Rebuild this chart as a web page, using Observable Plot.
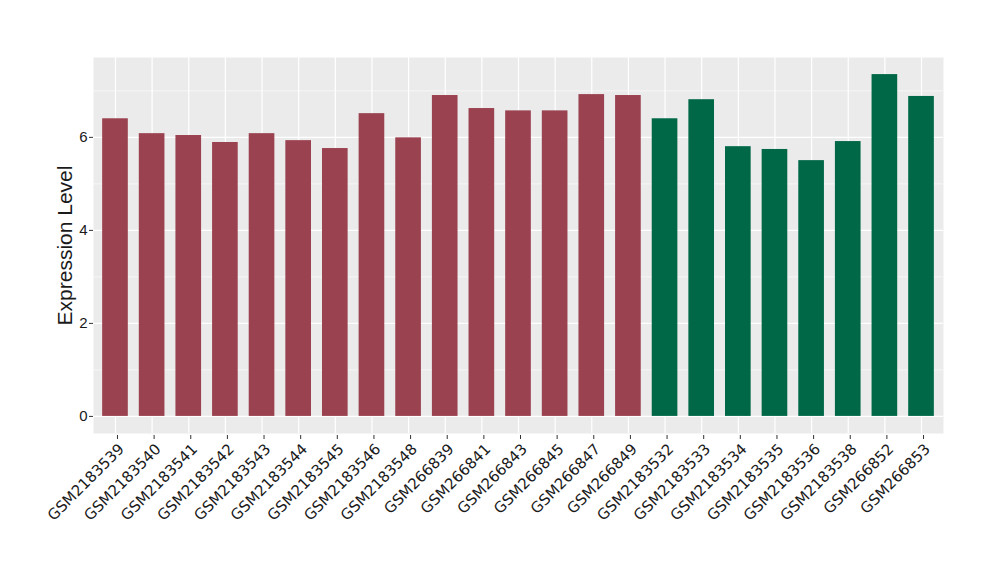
<!DOCTYPE html>
<html>
<head>
<meta charset="utf-8">
<script src="https://cdn.jsdelivr.net/npm/d3@7"></script>
<script src="https://cdn.jsdelivr.net/npm/@observablehq/plot@0.6"></script>
<style>
  html, body { margin: 0; padding: 0; background: #fff; }
  #chart { width: 1000px; height: 580px; }
</style>
</head>
<body>
<div id="chart"></div>
<script>
const samples = ["GSM2183539","GSM2183540","GSM2183541","GSM2183542","GSM2183543","GSM2183544","GSM2183545","GSM2183546","GSM2183548","GSM266839","GSM266841","GSM266843","GSM266845","GSM266847","GSM266849","GSM2183532","GSM2183533","GSM2183534","GSM2183535","GSM2183536","GSM2183538","GSM266852","GSM266853"];
const values = [6.40,6.08,6.04,5.89,6.08,5.93,5.76,6.51,5.99,6.90,6.62,6.57,6.57,6.92,6.90,6.40,6.81,5.80,5.74,5.50,5.91,7.35,6.88];
const groups = ["A","A","A","A","A","A","A","A","A","A","A","A","A","A","A","B","B","B","B","B","B","B","B"];
const groupNames = ["A","B"];
const groupColors = ["#9B4250","#006847"];
const majorTicks = [0,2,4,6];
const minorTicks = [1,3,5,7];

const data = samples.map((s,i) => ({sample: s, value: values[i], group: groups[i]}));
const maxV = d3.max(values);
const yDomain = [-0.05*maxV, maxV*1.05];

const chart = Plot.plot({
  width: 1000,
  height: 580,
  marginLeft: 93,
  marginRight: 57,
  marginTop: 57,
  marginBottom: 147,
  style: {fontFamily: "'Liberation Sans', Arial, sans-serif", fontSize: "15px", color: "#1a1a1a", background: "#fff"},
  x: {domain: samples, paddingInner: 0.3, paddingOuter: 0.25, align: 0.5, round: false},
  y: {domain: yDomain},
  color: {domain: groupNames, range: groupColors},
  marks: [
    Plot.frame({fill: "#EBEBEB", stroke: "none"}),
    Plot.ruleY(minorTicks, {stroke: "#fff", strokeWidth: 0.6}),
    Plot.ruleY(majorTicks, {stroke: "#fff", strokeWidth: 1.2}),
    Plot.ruleX(samples, {x: d => d, stroke: "#fff", strokeWidth: 1.2}),
    Plot.barY(data, {x: "sample", y: "value", fill: "group"}),
    Plot.axisY(majorTicks, {tickSize: 4, tickPadding: 2, stroke: "#333", fill: "#1a1a1a",
      label: "Expression Level", labelAnchor: "center", labelArrow: "none", labelOffset: 36}),
    Plot.axisX({tickSize: 4, tickPadding: 3, tickRotate: -45, stroke: "#333", fill: "#1a1a1a",
      textAnchor: "end", lineAnchor: "top", dx: 2, dy: 2, label: null})
  ]
});
document.getElementById("chart").appendChild(chart);
chart.querySelectorAll("text").forEach(t => {
  const s = t.textContent;
  if (s.startsWith("GSM")) {
    t.style.fontFamily = "'DejaVu Sans', sans-serif";
    t.style.fontSize = "15px";
  } else if (s.startsWith("Expression")) {
    t.style.fontSize = "21px";
  } else {
    t.style.fontSize = "15px";
  }
});
</script>
</body>
</html>
